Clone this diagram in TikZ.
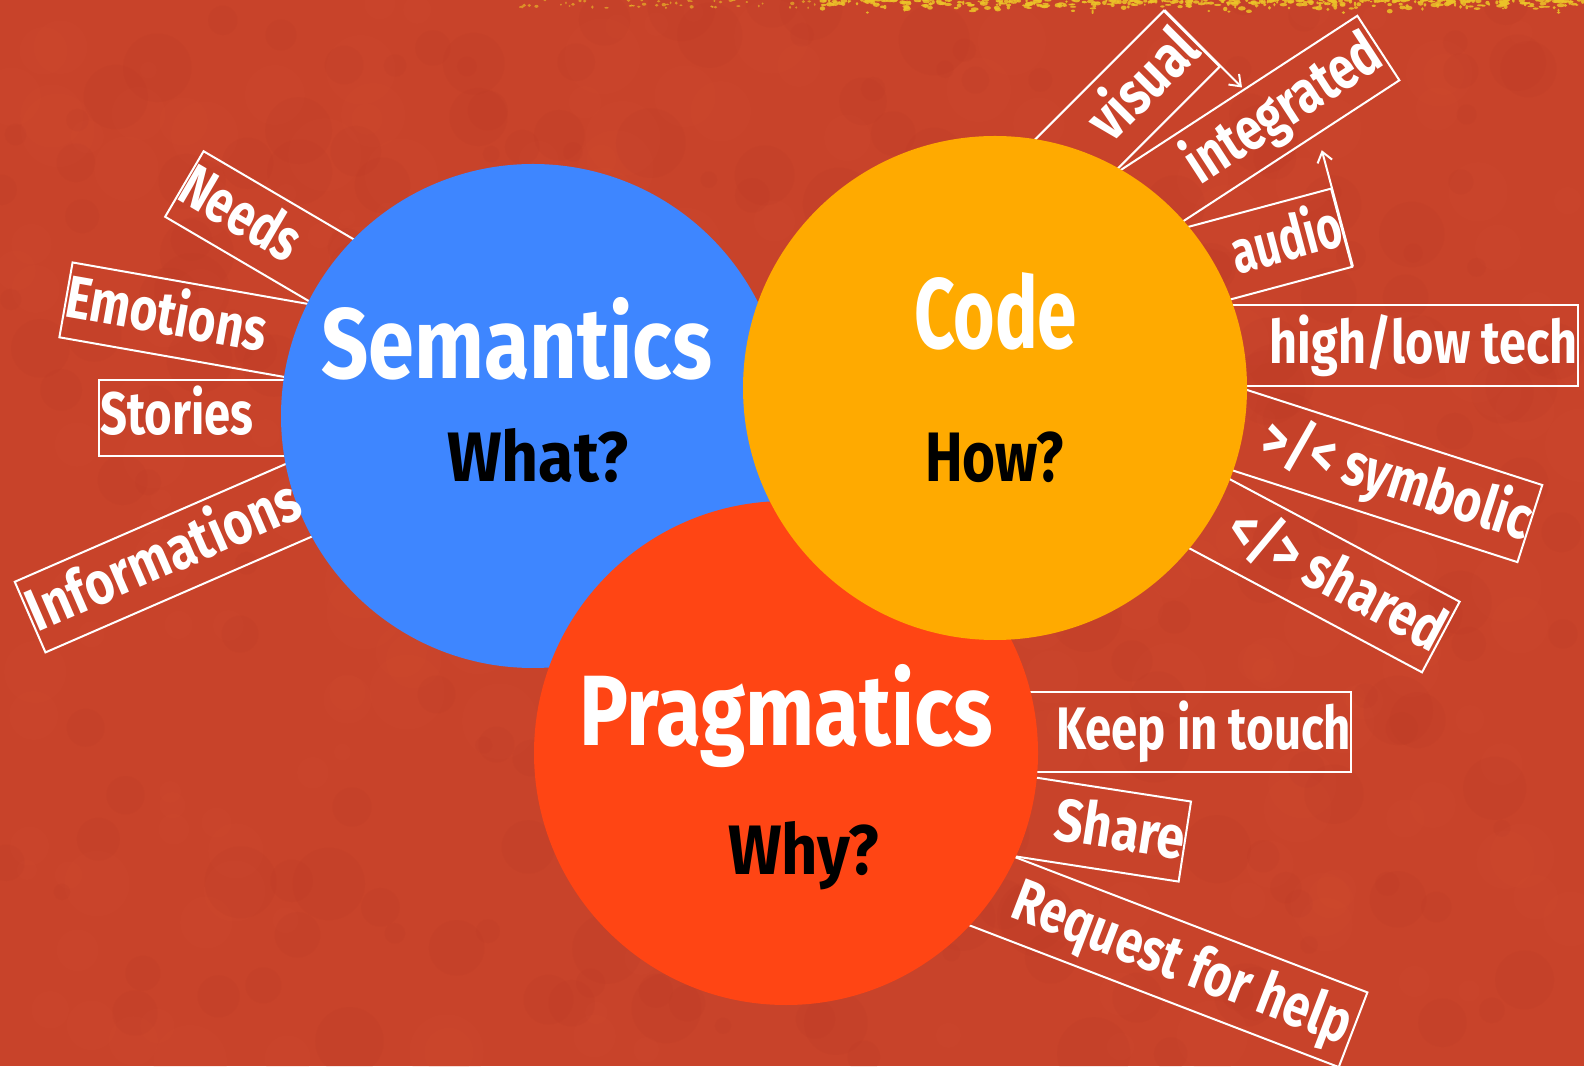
\documentclass[tikz,border=0pt]{standalone}
\usepackage{fontspec}
\usepackage{graphicx}
\setmainfont{Fira Sans}
\usetikzlibrary{arrows.meta}

\definecolor{bgred}{RGB}{200,67,42}
\definecolor{bgdark}{RGB}{180,55,35}
\definecolor{bglight}{RGB}{214,80,52}
\definecolor{semblue}{RGB}{62,134,255}
\definecolor{codeorange}{RGB}{255,170,0}
\definecolor{pragred}{RGB}{255,69,20}
\definecolor{speck}{RGB}{236,196,40}

\pgfdeclarelayer{front}
\pgfsetlayers{main,front}

% stretch a text horizontally to a given width, keeping its height
\newcommand\fitw[2]{\resizebox{#1}{\height}{#2}}

\tikzset{
  labelbox/.style={draw=white, line width=2pt, inner sep=0pt},
  labeltext/.style={text=white, inner sep=0pt, font=\bfseries\fontsize{60}{60}\selectfont},
  disc/.style={circle, inner sep=0pt, minimum size=504pt},
  title/.style={text=white, inner sep=0pt, anchor=base, font=\bfseries\fontsize{100}{100}\selectfont},
  question/.style={text=black, inner sep=0pt, anchor=base, font=\bfseries\fontsize{70}{70}\selectfont},
  arr/.style={draw=white, line width=2pt, -{Straight Barb[length=10pt,width=15pt]}},
}

\begin{document}
\begin{tikzpicture}[x=1pt,y=1pt]
\useasboundingbox (0,0) rectangle (1584,1066);
\fill[bgred] (0,0) rectangle (1584,1066);

% faint mottling of the paper
\pgfmathsetseed{7}
\foreach \i in {1,...,260} {
  \fill[bgdark, opacity=0.10] ({1584*rnd},{1066*rnd}) circle ({8+30*rnd});
  \fill[bglight, opacity=0.10] ({1584*rnd},{1066*rnd}) circle ({8+30*rnd});
}

% speckled yellow strip along the top edge
\pgfmathsetseed{42}
\foreach \i in {1,...,420} {
  \fill[speck, opacity=0.85] ({820+764*rnd},{1066-13*rnd*rnd}) ellipse ({1+3*rnd} and {0.8+1.5*rnd});
}
\foreach \i in {1,...,50} {
  \fill[speck, opacity=0.6] ({520+300*rnd},{1066-8*rnd}) ellipse ({0.8+1.5*rnd} and {0.8+1*rnd});
}

% ---- labels around Semantics (text reads toward the circle)
\begin{scope}[shift={(183.5,882.5)}, rotate=-30.4, transform shape]
  \node[labelbox, anchor=west, minimum width=419pt, minimum height=76pt] (needsbox) at (0,0) {};
  \begin{pgfonlayer}{front}
  \node[labeltext, anchor=base west] (needs) at (0,-17) {\fitw{129pt}{Needs}};
  \end{pgfonlayer}
\end{scope}
\begin{scope}[shift={(65,766.3)}, rotate=-10, transform shape]
  \node[labelbox, anchor=west, minimum width=481pt, minimum height=76pt] (emobox) at (0,0) {};
  \begin{pgfonlayer}{front}
  \node[labeltext, anchor=base west] (emotions) at (1,-17) {\fitw{203pt}{Emotions}};
  \end{pgfonlayer}
\end{scope}
\begin{scope}[shift={(98.3,648)}, transform shape]
  \node[labelbox, anchor=west, minimum width=435pt, minimum height=76pt] (storbox) at (0,0) {};
  \begin{pgfonlayer}{front}
  \node[labeltext, anchor=base west] (stories) at (2,-17) {\fitw{153pt}{Stories}};
  \end{pgfonlayer}
\end{scope}
\begin{scope}[shift={(29.2,448.5)}, rotate=23.5, transform shape]
  \node[labelbox, anchor=west, minimum width=542pt, minimum height=77pt] (infobox) at (0,0) {};
  \begin{pgfonlayer}{front}
  \node[labeltext, anchor=base west] (infos) at (2,-17) {\fitw{292pt}{Informations}};
  \end{pgfonlayer}
\end{scope}

% ---- labels around Code (text reads away from the circle)
\begin{scope}[shift={(1192.5,1028)}, rotate=45, transform shape]
  \node[labelbox, anchor=east, minimum width=387pt, minimum height=79pt] (visbox) at (0,0) {};
  \begin{pgfonlayer}{front}
  \node[labeltext, anchor=base east] (visual) at (-3,-18) {\fitw{130pt}{visual}};
  \end{pgfonlayer}
  \coordinate (visA) at (0,39.5);
  \coordinate (visB) at (0,-70);
\end{scope}
\begin{scope}[shift={(1379.2,1018.5)}, rotate=33.1, transform shape]
  \node[labelbox, anchor=east, minimum width=508pt, minimum height=77pt] (intbox) at (0,0) {};
  \begin{pgfonlayer}{front}
  \node[labeltext, anchor=base east] (integrated) at (-3,-18) {\fitw{222pt}{integrated}};
  \end{pgfonlayer}
\end{scope}
\begin{scope}[shift={(1342.5,838.5)}, rotate=15, transform shape]
  \node[labelbox, anchor=east, minimum width=377pt, minimum height=81pt] (audbox) at (0,0) {};
  \begin{pgfonlayer}{front}
  \node[labeltext, anchor=base east] (audio) at (-1,-18) {\fitw{112pt}{audio}};
  \end{pgfonlayer}
  \coordinate (audA) at (0,-40.5);
  \coordinate (audB) at (0,80);
\end{scope}
\begin{scope}[shift={(1579,720.5)}, transform shape]
  \node[labelbox, anchor=east, minimum width=584pt, minimum height=81pt] (techbox) at (0,0) {};
  \begin{pgfonlayer}{front}
  \node[labeltext, anchor=base east] (tech) at (-1,-18) {\fitw{308pt}{high/low tech}};
  \end{pgfonlayer}
\end{scope}
\begin{scope}[shift={(1530.8,542.1)}, rotate=-17.85, transform shape]
  \node[labelbox, anchor=east, minimum width=552pt, minimum height=81pt] (symbox) at (0,0) {};
  \begin{pgfonlayer}{front}
  \node[labeltext, anchor=base east] (symbolic) at (-1,-18) {\fitw{279pt}{>/< symbolic}};
  \end{pgfonlayer}
\end{scope}
\begin{scope}[shift={(1441.7,428.5)}, rotate=-28.06, transform shape]
  \node[labelbox, anchor=east, minimum width=511pt, minimum height=80pt] (shdbox) at (0,0) {};
  \begin{pgfonlayer}{front}
  \node[labeltext, anchor=base east] (shared) at (-1,-18) {\fitw{237pt}{</> shared}};
  \end{pgfonlayer}
\end{scope}

% arrows along the outer ends of "visual" and "audio"
\draw[arr] (visA) -- (visB);
\draw[arr] (audA) -- (audB);

% ---- labels around Pragmatics
\begin{scope}[shift={(1352.3,334.3)}, transform shape]
  \node[labelbox, anchor=east, minimum width=566pt, minimum height=80pt] (keepbox) at (0,0) {};
  \begin{pgfonlayer}{front}
  \node[labeltext, anchor=base east] (keep) at (-1,-18) {\fitw{295pt}{Keep in touch}};
  \end{pgfonlayer}
\end{scope}
\begin{scope}[shift={(1185.8,224.3)}, rotate=-8.77, transform shape]
  \node[labelbox, anchor=east, minimum width=408pt, minimum height=81pt] (sharebox) at (0,0) {};
  \begin{pgfonlayer}{front}
  \node[labeltext, anchor=base east] (share) at (-1,-18) {\fitw{131pt}{Share}};
  \end{pgfonlayer}
\end{scope}
\begin{scope}[shift={(1354,35.9)}, rotate=-21, transform shape]
  \node[labelbox, anchor=east, minimum width=630pt, minimum height=80pt] (helpbox) at (0,0) {};
  \begin{pgfonlayer}{front}
  \node[labeltext, anchor=base east] (help) at (-5,-18) {\fitw{358pt}{Request for help}};
  \end{pgfonlayer}
\end{scope}

% ---- the three discs
\node[disc, fill=semblue] (sem) at (533,650) {};
\node[disc, fill=pragred] (prag) at (786,313) {};
\node[disc, fill=codeorange] (code) at (995,678) {};

\node[title] (semt) at (516.7,687) {\fitw{391pt}{Semantics}};
\node[question] (semq) at (537.6,584) {\fitw{181pt}{What?}};
\node[title] (codet) at (995.6,717.5) {\fitw{163pt}{Code}};
\node[question] (codeq) at (994.6,584) {\fitw{139pt}{How?}};
\node[title] (pragt) at (786,320.5) {\fitw{414pt}{Pragmatics}};
\node[question] (pragq) at (803.6,192) {\fitw{151pt}{Why?}};
\end{tikzpicture}
\end{document}
